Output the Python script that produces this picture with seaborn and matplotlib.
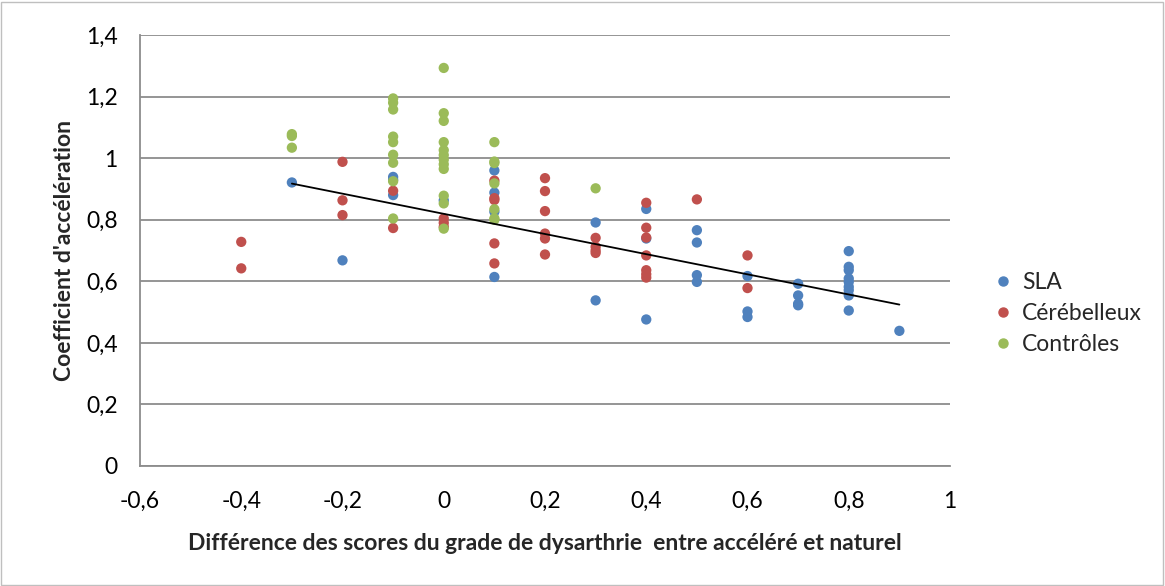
import numpy as np
import pandas as pd
import matplotlib
matplotlib.use('Agg')
import matplotlib.pyplot as plt
from matplotlib.ticker import FuncFormatter, MultipleLocator
from matplotlib.patches import Rectangle
import seaborn as sns

# SLA points (x = score difference, y = acceleration coefficient)
sla_x = [-0.3, -0.2, -0.1, -0.1, -0.1, 0.0, 0.1, 0.1, 0.1, 0.1, 0.3, 0.3,
         0.4, 0.4, 0.4, 0.5, 0.5, 0.5, 0.5, 0.6, 0.6, 0.6, 0.7, 0.7, 0.7, 0.7,
         0.8, 0.8, 0.8, 0.8, 0.8, 0.8, 0.8, 0.8, 0.8, 0.9]
sla_y = [0.921, 0.668, 0.939, 0.930, 0.880, 0.863, 0.960, 0.888, 0.826, 0.614, 0.791, 0.538,
         0.835, 0.739, 0.476, 0.766, 0.726, 0.620, 0.598, 0.617, 0.502, 0.484, 0.592, 0.554, 0.527, 0.522,
         0.698, 0.647, 0.636, 0.609, 0.598, 0.582, 0.571, 0.554, 0.505, 0.439]

# Cerebellar points
cer_x = [-0.4, -0.4, -0.2, -0.2, -0.2, -0.1, -0.1, 0.0, 0.0, 0.0,
         0.1, 0.1, 0.1, 0.1, 0.1, 0.2, 0.2, 0.2, 0.2, 0.2, 0.2,
         0.3, 0.3, 0.3, 0.3, 0.4, 0.4, 0.4, 0.4, 0.4, 0.4, 0.4, 0.5, 0.6, 0.6]
cer_y = [0.728, 0.642, 0.988, 0.863, 0.815, 0.894, 0.773, 0.804, 0.790, 0.777,
         0.927, 0.870, 0.864, 0.723, 0.658, 0.935, 0.893, 0.828, 0.755, 0.739, 0.687,
         0.741, 0.712, 0.700, 0.692, 0.855, 0.774, 0.742, 0.684, 0.636, 0.623, 0.612, 0.866, 0.684, 0.578]

# Control points
ctl_x = [-0.3, -0.3, -0.3, -0.1, -0.1, -0.1, -0.1, -0.1, -0.1, -0.1, -0.1, -0.1,
         0.0, 0.0, 0.0, 0.0, 0.0, 0.0, 0.0, 0.0, 0.0, 0.0, 0.0, 0.0,
         0.1, 0.1, 0.1, 0.1, 0.1, 0.1, 0.1, 0.3]
ctl_y = [1.078, 1.072, 1.034, 1.194, 1.180, 1.158, 1.070, 1.052, 1.011, 0.985, 0.925, 0.804,
         1.293, 1.146, 1.121, 1.052, 1.026, 1.010, 0.995, 0.980, 0.965, 0.878, 0.853, 0.771,
         1.052, 0.989, 0.984, 0.918, 0.834, 0.804, 0.800, 0.902]

groups = ['SLA', 'Cérébelleux', 'Contrôles']
colors = ['#4F81BD', '#C0504D', '#9BBB59']

df = pd.concat([
    pd.DataFrame({'x': sla_x, 'y': sla_y, 'Groupe': 'SLA'}),
    pd.DataFrame({'x': cer_x, 'y': cer_y, 'Groupe': 'Cérébelleux'}),
    pd.DataFrame({'x': ctl_x, 'y': ctl_y, 'Groupe': 'Contrôles'}),
], ignore_index=True)

sns.set_style('white')
plt.rcParams['font.family'] = ['Lato', 'DejaVu Sans']

fig = plt.figure(figsize=(11.65, 5.86), dpi=100)
ax = fig.add_axes([140 / 1165, 1 - 466 / 586, 810 / 1165, 431 / 586])

sns.scatterplot(data=df, x='x', y='y', hue='Groupe', hue_order=groups,
                palette=dict(zip(groups, colors)), s=55, edgecolor='none',
                linewidth=0, ax=ax, legend=False, zorder=3)

# linear trend on the SLA series
coef = np.polyfit(sla_x, sla_y, 1)
tx = np.array([min(sla_x), max(sla_x)])
ax.plot(tx, np.polyval(coef, tx), color='black', lw=1.3, zorder=4)

ax.set_xlim(-0.6, 1.0)
ax.set_ylim(0, 1.4)
ax.xaxis.set_major_locator(MultipleLocator(0.2))
ax.yaxis.set_major_locator(MultipleLocator(0.2))
fmt = FuncFormatter(lambda v, p: f'{round(v, 2):g}'.replace('.', ','))
ax.xaxis.set_major_formatter(fmt)
ax.yaxis.set_major_formatter(fmt)

ax.grid(axis='y', color='#8C8C8C', lw=1.3)
ax.set_axisbelow(True)
for side in ['top', 'right']:
    ax.spines[side].set_visible(False)
for side in ['left', 'bottom']:
    ax.spines[side].set_color('#8C8C8C')
    ax.spines[side].set_linewidth(1.3)
ax.tick_params(axis='both', direction='out', length=6, width=1.3, color='#8C8C8C',
               labelsize=16.5, pad=10, labelcolor='black')
ax.tick_params(axis='x', pad=12)

ax.set_xlabel('Différence des scores du grade de dysarthrie  entre accéléré et naturel',
              fontsize=16.5, fontweight='bold', labelpad=15)
ax.set_ylabel("Coefficient d'accélération", fontsize=16.5, fontweight='bold', labelpad=8)

handles = [plt.Line2D([], [], marker='o', ls='', color=c, markersize=6.5) for c in colors]
ax.legend(handles, groups, loc='center left', bbox_to_anchor=(1.02, 0.354), frameon=False,
          fontsize=16.5, handletextpad=0.15, labelspacing=0.45, handlelength=1.4)

fig.patches.append(Rectangle((1 / 1165, 1 / 586), 1162 / 1165, 583 / 586,
                             transform=fig.transFigure, fill=False,
                             edgecolor='#BFBFBF', lw=1))

fig.savefig('out.png', dpi=100)
